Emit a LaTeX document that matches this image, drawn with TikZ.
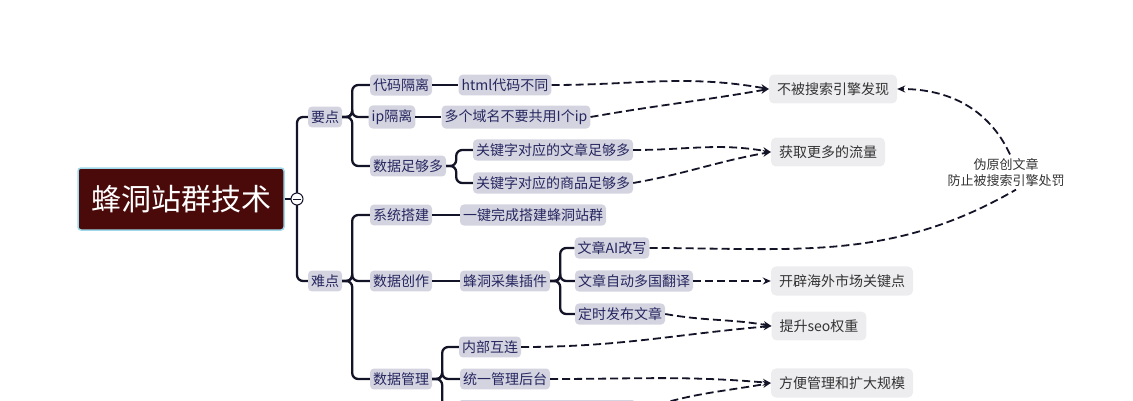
\documentclass[tikz,border=0pt]{standalone}
\usepackage{fontspec}
\setmainfont{Noto Sans CJK SC}
\usetikzlibrary{arrows.meta}
\definecolor{rootred}{HTML}{4A0A0A}
\definecolor{rootrim}{HTML}{9ED8EA}
\definecolor{topicfill}{HTML}{D4D4E0}
\definecolor{topicink}{HTML}{262660}
\definecolor{notefill}{HTML}{EDEDF0}
\definecolor{noteink}{HTML}{333333}
\definecolor{linkink}{HTML}{141428}
\begin{document}
\begin{tikzpicture}[
  x = 1pt, y = -1pt,
  topic/.style = {
    fill = topicfill,
    text = topicink,
    rounded corners = 4pt,
    inner xsep = 3pt,
    inner ysep = 4pt,
    font = \fontsize{14}{16}\selectfont
  },
  note/.style = {
    fill = notefill,
    text = noteink,
    rounded corners = 5pt,
    inner xsep = 8pt,
    inner ysep = 8pt,
    font = \fontsize{14}{16}\selectfont
  },
  branch/.style = {
    draw = linkink,
    line width = 2.3pt,
    rounded corners = 6pt
  },
  link/.style = {
    draw = linkink,
    line width = 1.8pt,
    dash pattern = on 8pt off 4pt,
    -{Stealth[length=8pt,width=7pt]}
  },
  plainlink/.style = {
    draw = linkink,
    line width = 1.8pt,
    dash pattern = on 8pt off 4pt
  }
]
  \useasboundingbox (0,0) rectangle (1133,400);
  \clip (0,0) rectangle (1133,400);

  % root
  \node[fill = rootred, draw = rootrim, line width = 1.5pt, rounded corners = 3pt,
        text = white, font = \fontsize{30}{34}\selectfont,
        minimum width = 206pt, minimum height = 62pt] (root) at (181,199) {蜂洞站群技术};

  % first level
  \node[topic] (yd) at (325,117) {要点};
  \node[topic] (nd) at (325,281) {难点};

  \node[topic] (dmgl) at (401,85) {代码隔离};
  \node[topic] (ipgl) at (392,117) {ip隔离};
  \node[topic] (sjzg) at (408,166) {数据足够多};
  \node[topic] (htmlbt) at (505,85) {html代码不同};
  \node[topic] (dgym) at (516,117) {多个域名不要共用I个ip};
  \node[topic] (gjwz) at (553,150) {关键字对应的文章足够多};
  \node[topic] (gjsp) at (553,183) {关键字对应的商品足够多};

  \node[topic] (xtdj) at (401,215) {系统搭建};
  \node[topic] (yjwc) at (533,215) {一键完成搭建蜂洞站群};
  \node[topic] (sjcz) at (401,281) {数据创作};
  \node[topic] (fdcj) at (505,281) {蜂洞采集插件};
  \node[topic] (aigx) at (612,248) {文章AI改写};
  \node[topic] (fyi) at (634,281) {文章自动多国翻译};
  \node[topic] (dsfb) at (620,314) {定时发布文章};
  \node[topic] (sjgl) at (401,379) {数据管理};
  \node[topic] (nbhl) at (490,347) {内部互连};
  \node[topic] (tygl) at (505,379) {统一管理后台};
  \node[topic, minimum width = 178pt, minimum height = 24pt] (qita) at (547,412) {};

  % notes
  \node[note] (bbfx) at (833,89) {不被搜索引擎发现};
  \node[note] (hqll) at (828,152) {获取更多的流量};
  \node[note] (kpsc) at (842,281) {开辟海外市场关键点};
  \node[note] (tsqz) at (819,326) {提升seo权重};
  \node[note] (fbgl) at (842,383) {方便管理和扩大规模};
  \node[align = center, text = noteink, font = \fontsize{13}{16}\selectfont]
    (wyc) at (1006,172) {伪原创文章\\防止被搜索引擎处罚};

  % tree
  \coordinate (hub) at (297,199);
  \draw[branch] (root.east) -- (hub);
  \draw[branch] (yd.west) -| (hub) |- (nd.west);
  \foreach \p/\c in {yd/dmgl, yd/ipgl, yd/sjzg, sjzg/gjwz, sjzg/gjsp,
                     nd/xtdj, nd/sjcz, nd/sjgl,
                     fdcj/aigx, fdcj/fyi, fdcj/dsfb,
                     sjgl/nbhl, sjgl/tygl, sjgl/qita}
    \draw[branch] (\p.east) -- ++(10,0) |- (\c.west);
  \foreach \p/\c in {dmgl/htmlbt, ipgl/dgym, xtdj/yjwc, sjcz/fdcj}
    \draw[branch] (\p.east) -- (\c.west);
  \node[circle, draw = linkink, fill = white, line width = 1pt,
        minimum size = 12pt, inner sep = 0pt] (fold) at (hub) {};
  \draw[linkink, line width = 1pt] ([xshift = 2.5pt] fold.west) -- ([xshift = -2.5pt] fold.east);

  % relations
  \draw[link] (htmlbt.east) to[out = 0, in = 170] (bbfx.west);
  \draw[link] (dgym.east) to[out = 10, in = 190] (bbfx.west);
  \draw[link] (gjwz.east) to[out = 0, in = 170] (hqll.west);
  \draw[link] (gjsp.east) to[out = 10, in = 190] (hqll.west);
  \draw[plainlink] (aigx.east) to[out = 0, in = -150] ([xshift = 10pt] wyc.south);
  \draw[link] ([xshift = 4pt] wyc.north) to[out = 115, in = 0] (bbfx.east);
  \draw[link] (fyi.east) -- (kpsc.west);
  \draw[link] (dsfb.east) to[out = -10, in = 170] (tsqz.west);
  \draw[link] (nbhl.east) to[out = 0, in = 185] (tsqz.west);
  \draw[link] (tygl.east) to[out = 0, in = 175] (fbgl.west);
  \draw[link] (qita.east) to[out = 20, in = 190] (fbgl.west);
\end{tikzpicture}
\end{document}
